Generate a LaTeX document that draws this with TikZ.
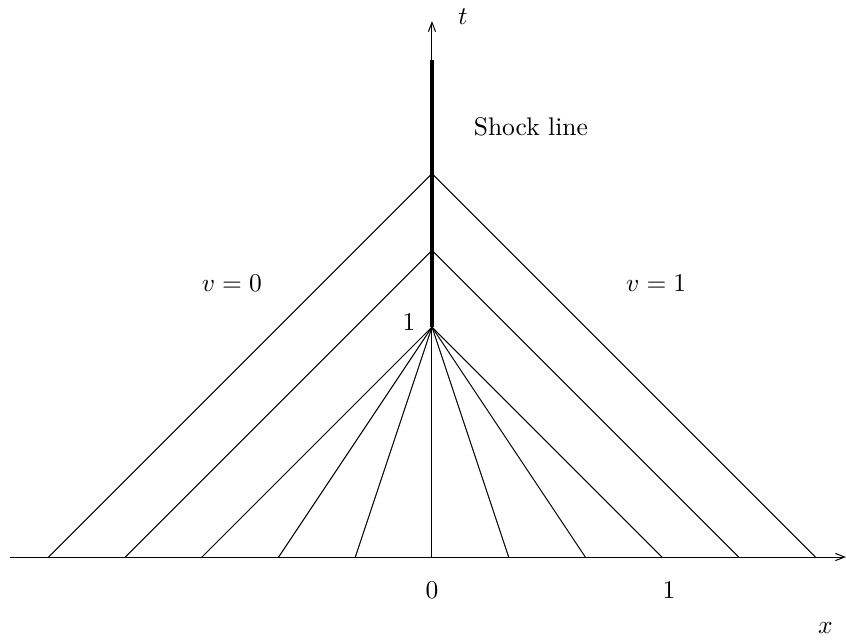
\documentclass[tikz,border=0pt]{standalone}
\usetikzlibrary{arrows.meta}
\begin{document}
\begin{tikzpicture}[x=3.17cm,y=3.17cm,
  thinline/.style={line width=0.4pt},
  axisline/.style={line width=0.4pt,-{Straight Barb[length=3.6pt,width=2.8pt]}},
  shockline/.style={line width=1.7pt},
  lbl/.style={inner sep=0pt}]
\useasboundingbox (-1.878,-0.365) rectangle (1.8,2.4217);
% axes
\coordinate (xs) at (-1.835,0);
\coordinate (xe) at (1.8,0);
\coordinate (O) at (0,0);
\coordinate (te) at (0,2.33);
\draw[axisline] (xs) -- (xe);
\draw[axisline] (O) -- (te);
% apex points
\coordinate (P1) at (0,1);
\coordinate (P2) at (0,4/3);
\coordinate (P3) at (0,5/3);
\coordinate (S) at (0,2.16);
% fan to (0,1)
\foreach \k in {-3,...,3} {
  \coordinate (b\k) at (\k/3,0);
  \draw[thinline] (b\k) -- (P1);
}
\coordinate (bm4) at (-4/3,0);
\coordinate (bm5) at (-5/3,0);
\coordinate (bp4) at (4/3,0);
\coordinate (bp5) at (5/3,0);
\draw[thinline] (bm4) -- (P2) -- (bp4);
\draw[thinline] (bm5) -- (P3) -- (bp5);
% shock
\draw[shockline] (P1) -- (S);
% labels
\node[lbl] (lt) at (0.135,2.35) {$t$};
\node[lbl] (lx) at (1.71,-0.31) {$x$};
\node[lbl] (l0) at (0,-0.143) {$0$};
\node[lbl] (l1) at (1.03,-0.143) {$1$};
\node[lbl] (l1t) at (-0.1,1.02) {$1$};
\node[lbl] (shock) at (0.43,1.87) {Shock line};
\node[lbl] (v0) at (-0.87,1.19) {$v=0$};
\node[lbl] (v1) at (0.975,1.19) {$v=1$};
\end{tikzpicture}
\end{document}
